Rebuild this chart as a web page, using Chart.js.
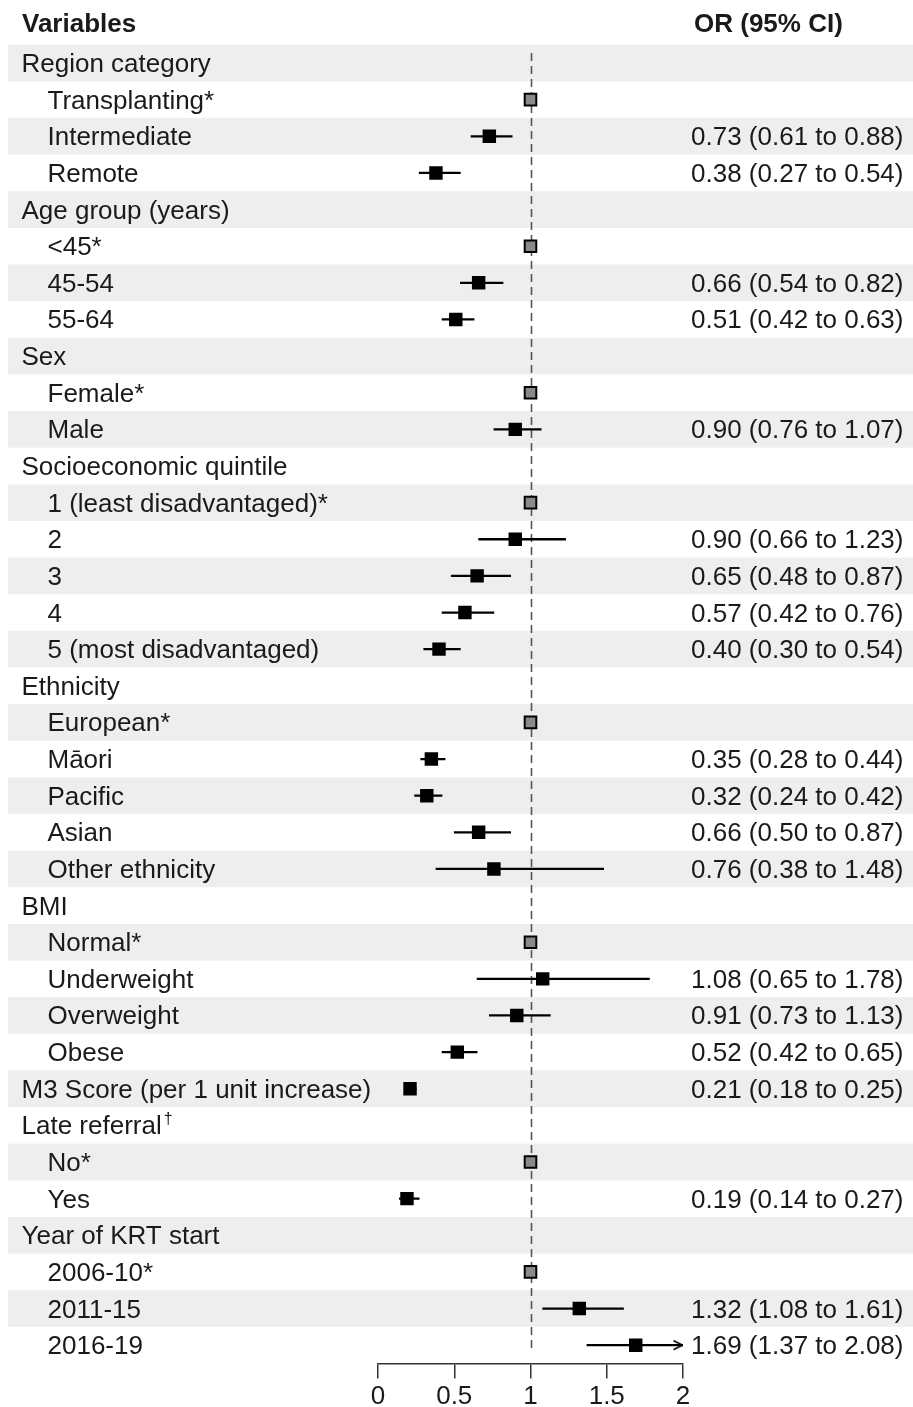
<!DOCTYPE html>
<html>
<head>
<meta charset="utf-8">
<script src="https://cdn.jsdelivr.net/npm/chart.js@4.4.1/dist/chart.umd.min.js"></script>
<style>
  html, body { margin: 0; padding: 0; background: #ffffff; }
  #wrap { width: 913px; height: 1407px; position: relative; }
  canvas { display: block; }
</style>
</head>
<body>
<div id="wrap"><canvas id="c" width="913" height="1407"></canvas></div>
<script>
// ---------------- DATA ----------------
const headerVariables = 'Variables';
const headerEstimate = 'OR (95% CI)';

const rowLabels = [
  'Region category', 'Transplanting*', 'Intermediate', 'Remote',
  'Age group (years)', '<45*', '45-54', '55-64',
  'Sex', 'Female*', 'Male',
  'Socioeconomic quintile', '1 (least disadvantaged)*', '2', '3', '4', '5 (most disadvantaged)',
  'Ethnicity', 'European*', 'Māori', 'Pacific', 'Asian', 'Other ethnicity',
  'BMI', 'Normal*', 'Underweight', 'Overweight', 'Obese',
  'M3 Score (per 1 unit increase)',
  'Late referral†', 'No*', 'Yes',
  'Year of KRT start', '2006-10*', '2011-15', '2016-19'
];

// 0 = group heading, 1 = sub-item
const rowLevel = [
  0, 1, 1, 1,
  0, 1, 1, 1,
  0, 1, 1,
  0, 1, 1, 1, 1, 1,
  0, 1, 1, 1, 1, 1,
  0, 1, 1, 1, 1,
  0,
  0, 1, 1,
  0, 1, 1, 1
];

const oddsRatio = [
  null, 1, 0.73, 0.38,
  null, 1, 0.66, 0.51,
  null, 1, 0.90,
  null, 1, 0.90, 0.65, 0.57, 0.40,
  null, 1, 0.35, 0.32, 0.66, 0.76,
  null, 1, 1.08, 0.91, 0.52,
  0.21,
  null, 1, 0.19,
  null, 1, 1.32, 1.69
];

const ciLower = [
  null, null, 0.61, 0.27,
  null, null, 0.54, 0.42,
  null, null, 0.76,
  null, null, 0.66, 0.48, 0.42, 0.30,
  null, null, 0.28, 0.24, 0.50, 0.38,
  null, null, 0.65, 0.73, 0.42,
  0.18,
  null, null, 0.14,
  null, null, 1.08, 1.37
];

const ciUpper = [
  null, null, 0.88, 0.54,
  null, null, 0.82, 0.63,
  null, null, 1.07,
  null, null, 1.23, 0.87, 0.76, 0.54,
  null, null, 0.44, 0.42, 0.87, 1.48,
  null, null, 1.78, 1.13, 0.65,
  0.25,
  null, null, 0.27,
  null, null, 1.61, 2.08
];

const xTickValues = [0, 0.5, 1, 1.5, 2];
const xMin = 0, xMax = 2, nullValue = 1;

// ---------------- STYLE ----------------
const FONT = "'Liberation Sans', Arial, Helvetica, sans-serif";
const TEXT = '#1a1a1a';
const BAND = '#eeeeee';

const isReference = rowLabels.map((l, i) => ciLower[i] === null && oddsRatio[i] !== null);

// chevron arrow head image used as a point style
const arrowImg = (() => {
  const cv = document.createElement('canvas');
  cv.width = 22; cv.height = 12;
  const g = cv.getContext('2d');
  g.strokeStyle = '#000';
  g.lineWidth = 1.6;
  g.beginPath();
  g.moveTo(1.5, 1.5);
  g.lineTo(10.5, 6);
  g.lineTo(1.5, 10.5);
  g.stroke();
  return cv;
})();

const fmt = v => v.toFixed(2);

const bgPlugin = {
  id: 'forestDecor',
  beforeDraw(chart) {
    const { ctx, scales: { y }, width, height } = chart;
    ctx.save();
    ctx.fillStyle = '#ffffff';
    ctx.fillRect(0, 0, width, height);
    const rowH = y.getPixelForValue(1) - y.getPixelForValue(0);
    ctx.fillStyle = BAND;
    rowLabels.forEach((l, i) => {
      if (i % 2 === 0) {
        const c = y.getPixelForValue(i);
        ctx.fillRect(8, c - rowH / 2, width - 8, rowH);
      }
    });
    ctx.restore();
  },
  beforeDatasetsDraw(chart) {
    const { ctx, scales: { x, y } } = chart;
    const px = Math.round(x.getPixelForValue(nullValue)) + 0.5;
    ctx.save();
    ctx.strokeStyle = '#555555';
    ctx.lineWidth = 1.6;
    ctx.setLineDash([8, 5]);
    ctx.beginPath();
    ctx.moveTo(px, y.getPixelForValue(0) - 10);
    ctx.lineTo(px, y.getPixelForValue(rowLabels.length - 1) + 7);
    ctx.stroke();
    ctx.restore();
  },
  afterDraw(chart) {
    const { ctx, scales: { y } } = chart;
    ctx.save();
    ctx.fillStyle = TEXT;
    ctx.textBaseline = 'alphabetic';
    ctx.textAlign = 'left';
    // headers
    ctx.font = 'bold 26px ' + FONT;
    ctx.fillText(headerVariables, 22, 32);
    ctx.fillText(headerEstimate, 694, 32);
    // rows
    rowLabels.forEach((label, i) => {
      const cy = y.getPixelForValue(i) + 9;
      const lx = rowLevel[i] === 0 ? 21.5 : 47.5;
      ctx.font = '26px ' + FONT;
      if (label.endsWith('†')) {
        const base = label.slice(0, -1);
        ctx.fillText(base, lx, cy);
        const w = ctx.measureText(base).width;
        ctx.font = '16px ' + FONT;
        ctx.fillText('†', lx + w + 2, cy - 10);
      } else {
        ctx.fillText(label, lx, cy);
      }
      if (ciLower[i] !== null) {
        ctx.font = '26px ' + FONT;
        ctx.fillText(`${fmt(oddsRatio[i])} (${fmt(ciLower[i])} to ${fmt(ciUpper[i])})`, 691, cy);
      }
    });
    ctx.restore();
  }
};

new Chart(document.getElementById('c'), {
  type: 'bar',
  data: {
    labels: rowLabels,
    datasets: [
      {
        type: 'bar',
        label: 'CI',
        indexAxis: 'y',
        data: rowLabels.map((l, i) => ciLower[i] === null ? null : [ciLower[i], ciUpper[i]]),
        backgroundColor: '#000000',
        borderWidth: 0,
        barThickness: 1.6,
        order: 3
      },
      {
        type: 'scatter',
        label: 'Arrow',
        data: rowLabels.map((l, i) => ({ x: (ciUpper[i] !== null && ciUpper[i] > xMax) ? xMax : null, y: l })),
        pointStyle: arrowImg,
        order: 2
      },
      {
        type: 'scatter',
        label: 'OR',
        data: rowLabels.map((l, i) => ({ x: oddsRatio[i], y: l })),
        pointStyle: 'rect',
        pointRadius: rowLabels.map((l, i) => isReference[i] ? 8.2 : 9.5),
        pointBackgroundColor: rowLabels.map((l, i) => isReference[i] ? '#8a8a8a' : '#000000'),
        pointBorderColor: '#000000',
        pointBorderWidth: rowLabels.map((l, i) => isReference[i] ? 2 : 0),
        order: 1
      }
    ]
  },
  options: {
    indexAxis: 'y',
    responsive: false,
    maintainAspectRatio: false,
    devicePixelRatio: 1,
    animation: false,
    events: [],
    layout: { padding: { left: 378, right: 230, top: 44.7, bottom: 0 } },
    plugins: { legend: { display: false }, tooltip: { enabled: false } },
    scales: {
      x: {
        type: 'linear',
        position: 'bottom',
        min: xMin,
        max: xMax,
        offset: false,
        afterBuildTicks: axis => { axis.ticks = xTickValues.map(v => ({ value: v })); },
        afterFit: axis => { axis.height = 43.5; },
        grid: { offset: false, drawOnChartArea: false, drawTicks: true, tickLength: 15, tickColor: '#333333', tickWidth: 1.5, color: '#333333', lineWidth: 1.5 },
        border: { display: true, color: '#333333', width: 1.5 },
        ticks: {
          font: { family: FONT, size: 26 },
          color: TEXT,
          padding: 3,
          maxRotation: 0,
          autoSkip: false,
          callback: v => String(v)
        }
      },
      y: {
        type: 'category',
        labels: rowLabels,
        offset: true,
        display: false,
        grid: { display: false, offset: true }
      }
    }
  },
  plugins: [bgPlugin]
});
</script>
</body>
</html>
